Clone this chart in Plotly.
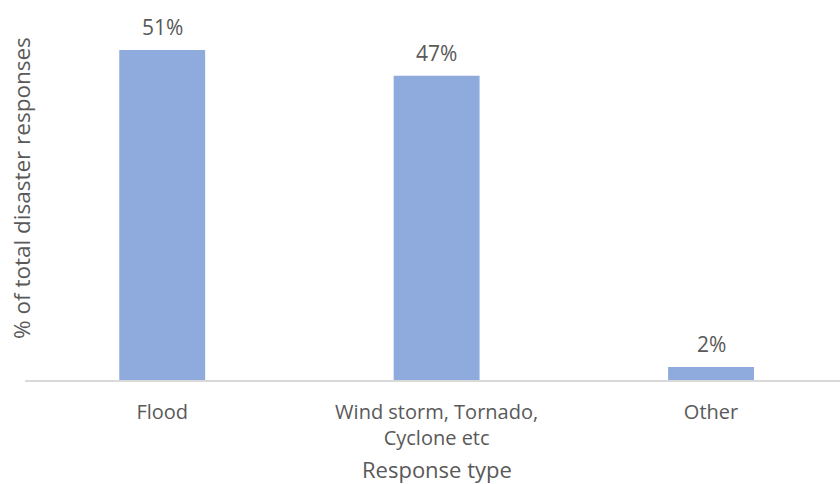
import plotly.graph_objects as go

# Share of disaster responses by type
categories = ["Flood", "Wind storm, Tornado,<br>Cyclone etc", "Other"]
shares = [51, 47, 2]

BAR_COLOR = "#8FAADC"
TEXT_COLOR = "#595959"
FONT = "Open Sans"
FS = 22

W, H = 840, 484
L, R, T, B = 25, 0, 24, 104
pw, ph = W - L - R, H - T - B

fig = go.Figure(
    go.Bar(
        x=categories,
        y=shares,
        marker=dict(color=BAR_COLOR, line=dict(width=0)),
        width=0.313,
        hoverinfo="skip",
    )
)

# Value labels above each bar
for cat, v in zip(categories, shares):
    fig.add_annotation(
        x=cat, y=v, xref="x", yref="y",
        text=f"{v}%", showarrow=False,
        yanchor="bottom", yshift=7,
        font=dict(family=FONT, size=FS - 1, color=TEXT_COLOR),
    )

# Axis titles, positioned in pixels and converted to paper coords
fig.add_annotation(
    x=(21 - L) / pw, y=(H - B - 188) / ph, xref="paper", yref="paper",
    xanchor="center", yanchor="middle",
    text="% of total disaster responses", showarrow=False,
    textangle=-90, font=dict(family=FONT, size=FS + 0.5, color=TEXT_COLOR),
)
fig.add_annotation(
    x=(437 - L) / pw, y=(H - B - 469) / ph, xref="paper", yref="paper",
    xanchor="center", yanchor="middle",
    text="Response type", showarrow=False,
    font=dict(family=FONT, size=FS, color=TEXT_COLOR),
)

fig.update_layout(
    width=W, height=H,
    margin=dict(l=L, r=R, t=T, b=B, pad=0),
    paper_bgcolor="white", plot_bgcolor="white",
    showlegend=False,
    font=dict(family=FONT, size=FS, color=TEXT_COLOR),
    xaxis=dict(
        range=[-0.5, 2.47],
        showline=True, linecolor="#D9D9D9", linewidth=2,
        ticks="", showgrid=False, ticklabelstandoff=13,
        tickfont=dict(family=FONT, size=FS - 2, color=TEXT_COLOR),
    ),
    yaxis=dict(
        range=[0, 55], showticklabels=False, showgrid=False,
        zeroline=False, showline=False, ticks="",
    ),
)

fig.write_html("out.html")
